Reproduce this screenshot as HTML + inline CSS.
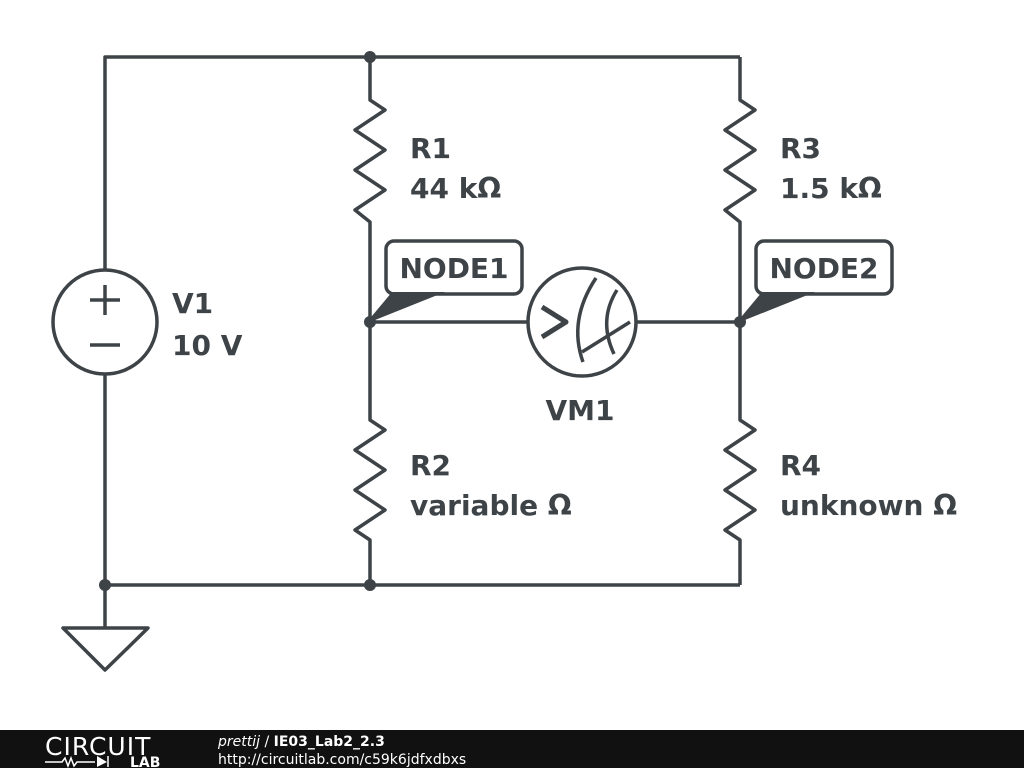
<!DOCTYPE html>
<html><head><meta charset="utf-8"><style>
body{margin:0;width:1024px;height:768px;background:#fff;overflow:hidden}
svg{display:block}
text{font-family:"DejaVu Sans","Liberation Sans",sans-serif;font-weight:bold;fill:#3d4347}
</style></head><body>
<svg width="1024" height="768" viewBox="0 0 1024 768">
<g stroke="#3d4347" stroke-width="3.5" fill="none" stroke-linejoin="round">
<polyline points="105,270 105,57 740,57"/>
<polyline points="105,375 105,628"/>
<polyline points="105,585 740,585"/>
<polygon points="63,628 148,628 105,670"/>
<polyline points="370,57 370,100 385,110 355,130 385,150 355,170 385,190 355,210 370,222 370,420 385,430 355,450 385,470 355,490 385,510 355,530 370,540 370,585"/>
<polyline points="740,57 740,100 755,110 725,130 755,150 725,170 755,190 725,210 740,222 740,420 755,430 725,450 755,470 725,490 755,510 725,530 740,540 740,585"/>
<circle cx="105" cy="322" r="52"/>
<line x1="90" y1="300" x2="120" y2="300"/><line x1="105" y1="285" x2="105" y2="315"/>
<line x1="90" y1="345" x2="120" y2="345"/>
<line x1="370" y1="322" x2="528" y2="322"/><line x1="636" y1="322" x2="740" y2="322"/>
<circle cx="582" cy="322" r="54"/>
<polyline points="542,307 566,322 542,337" stroke-width="5"/>
<path d="M596,278 Q568,320 583,362"/>
<path d="M617,290 Q598,320 614,354"/>
<line x1="582" y1="352" x2="630" y2="322"/>
<rect x="386" y="241" width="136" height="53" rx="8"/>
<rect x="756" y="241" width="136" height="53" rx="8"/>
</g>
<g fill="#3d4347">
<polygon points="392,292 445,292 370,322 372,316"/>
<polygon points="762,292 815,292 740,322 742,316"/>
<circle cx="370" cy="57" r="6"/><circle cx="370" cy="322" r="6"/><circle cx="740" cy="322" r="6"/>
<circle cx="370" cy="585" r="6"/><circle cx="105" cy="585" r="6"/>
</g>
<g font-size="28">
<text x="410" y="158">R1</text><text x="410" y="198">44 kΩ</text>
<text x="780" y="158">R3</text><text x="780" y="198">1.5 kΩ</text>
<text x="410" y="475">R2</text><text x="410" y="515">variable Ω</text>
<text x="780" y="475">R4</text><text x="780" y="515">unknown Ω</text>
<text x="172" y="313">V1</text><text x="172" y="355">10 V</text>
<text x="580" y="420" text-anchor="middle">VM1</text>
<text x="454" y="278" text-anchor="middle">NODE1</text>
<text x="824" y="278" text-anchor="middle">NODE2</text>
</g>
<rect x="0" y="730" width="1024" height="38" fill="#111"/>
<text x="45" y="755" font-size="25" style="fill:#fff;font-weight:normal;letter-spacing:1px">CIRCUIT</text>
<g stroke="#fff" stroke-width="1.5" fill="none"><polyline points="45,762 62,762 65,758 68,766 71,758 74,766 77,762 95,762"/><line x1="108" y1="756" x2="108" y2="767"/></g>
<polygon points="97,756 97,767 107,762" fill="#fff"/>
<text x="130" y="767" font-size="14" style="fill:#fff">LAB</text>
<text x="218" y="746" font-size="14" style="fill:#fff;font-weight:normal"><tspan font-style="italic">prettij</tspan> / <tspan font-weight="bold">IE03_Lab2_2.3</tspan></text>
<text x="218" y="764" font-size="14" style="fill:#fff;font-weight:normal">http://circuitlab.com/c59k6jdfxdbxs</text>
</svg>
</body></html>
